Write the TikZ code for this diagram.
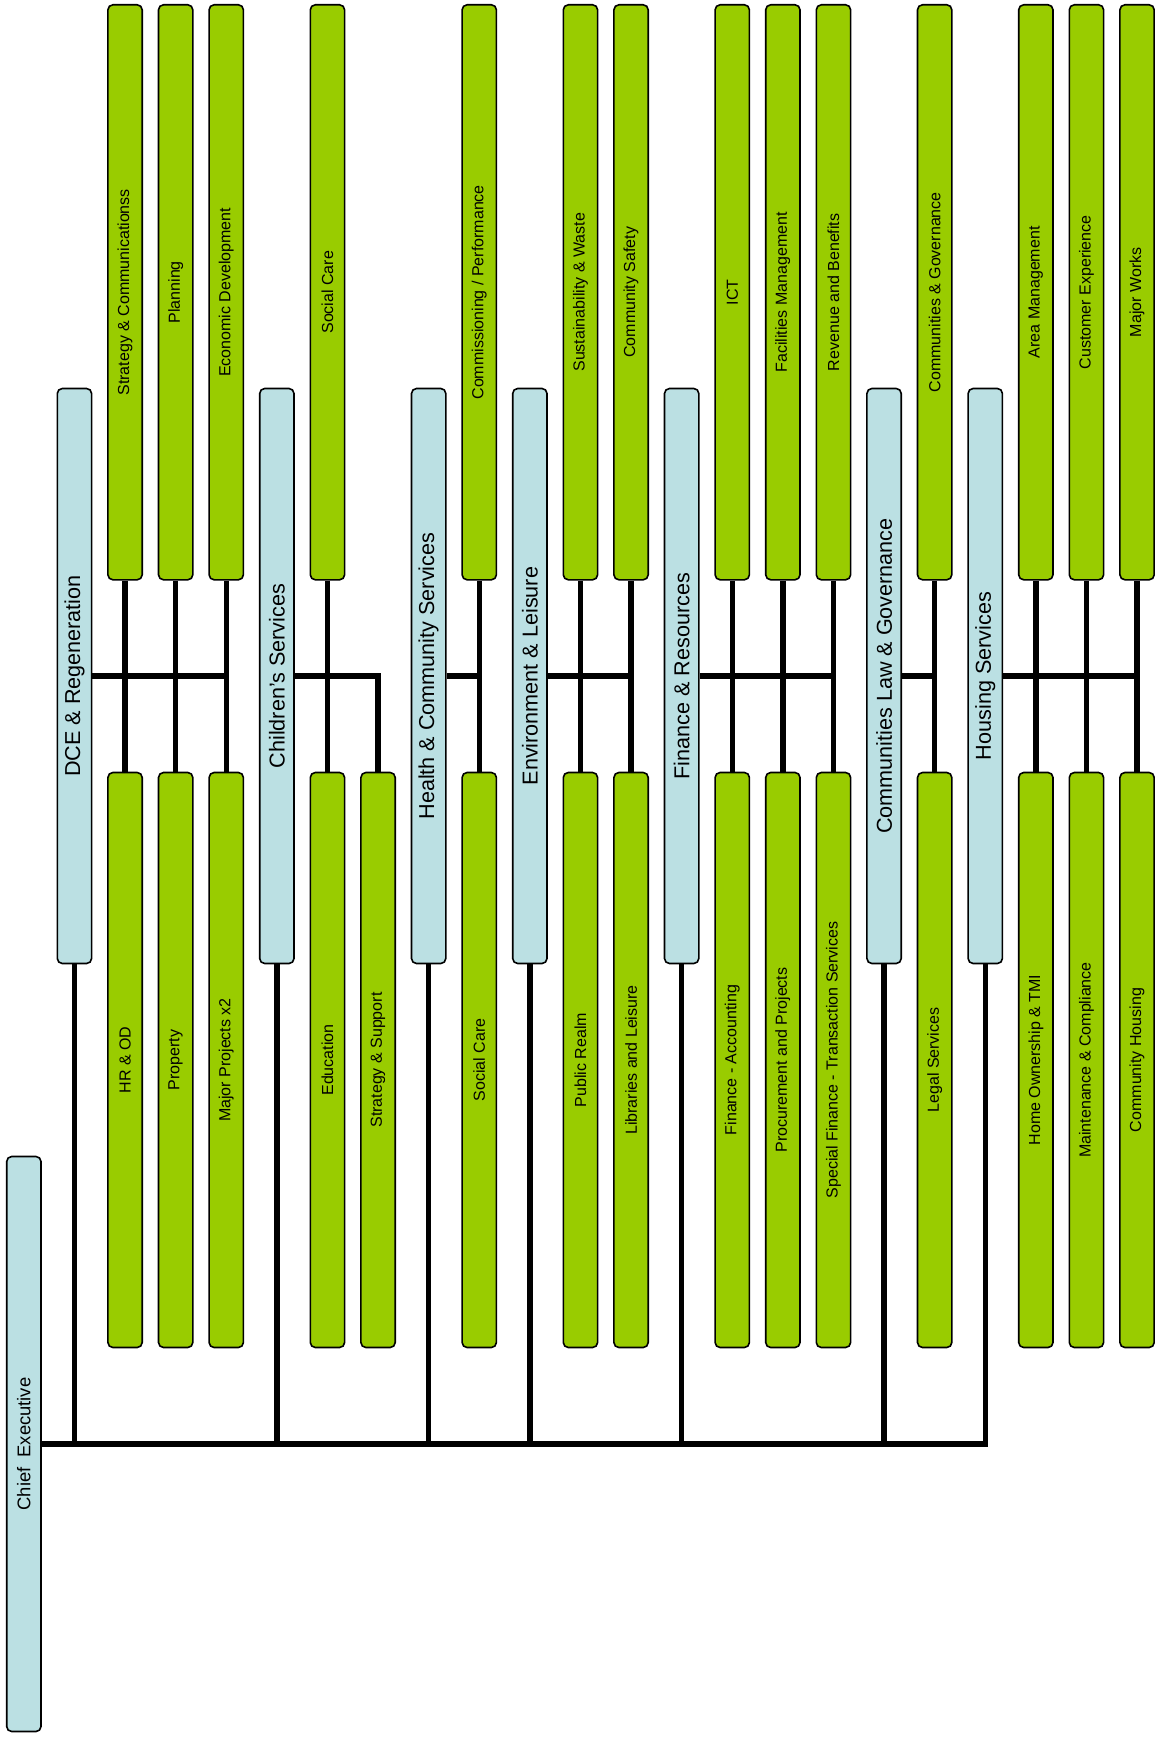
\documentclass[tikz,border=0pt]{standalone}
\usepackage{fontspec}
\setmainfont{Liberation Sans}
\definecolor{lgreen}{HTML}{99CC00}
\definecolor{lblue}{RGB}{187,224,227}
\tikzset{
  box/.style={draw=black, line width=0.8pt, rounded corners=2.5pt,
    minimum width=17.15pt, minimum height=287.5pt, inner sep=0pt, anchor=center},
  subbox/.style={box, fill=lgreen, font=\fontsize{8}{9.6}\selectfont},
  deptbox/.style={box, fill=lblue, font=\fontsize{10.8}{13}\selectfont},
  ceobox/.style={box, fill=lblue, font=\fontsize{9.2}{11}\selectfont},
  link/.style={line width=2.7pt, draw=black},
}
\newcommand\topbox[3]{\node[subbox] (#1) at ({23.85+50.6*#2},292.3) {\rotatebox{90}{#3}};}
\newcommand\botbox[3]{\node[subbox] (#1) at ({23.85+50.6*#2},1060) {\rotatebox{90}{#3}};}
\newcommand\deptbox[3]{\node[deptbox] (#1) at ({23.85+50.6*#2},676) {\rotatebox{90}{#3}};}
\begin{document}
\begin{tikzpicture}[x=0.5pt,y=-0.5pt]
\useasboundingbox (0,0) rectangle (1155,1738);
% chief executive
\node[ceobox] (ce) at (23.85,1444) {\rotatebox{90}{Chief\ \ Executive}};
% departments
\deptbox{dce}{1}{DCE \& Regeneration}
\deptbox{cs}{5}{Children’s Services}
\deptbox{hc}{8}{Health \& Community Services}
\deptbox{el}{10}{Environment \& Leisure}
\deptbox{fr}{13}{Finance \& Resources}
\deptbox{cl}{17}{Communities Law \& Governance}
\deptbox{hs}{19}{Housing Services}
% top sub-units
\topbox{t2}{2}{Strategy \& Communicationss}
\topbox{t3}{3}{Planning}
\topbox{t4}{4}{Economic Development}
\topbox{t6}{6}{Social Care}
\topbox{t9}{9}{Commissioning / Performance}
\topbox{t11}{11}{Sustainability \& Waste}
\topbox{t12}{12}{Community Safety}
\topbox{t14}{14}{ICT}
\topbox{t15}{15}{Facilities Management}
\topbox{t16}{16}{Revenue and Benefits}
\topbox{t18}{18}{Communities \& Governance}
\topbox{t20}{20}{Area Management}
\topbox{t21}{21}{Customer Experience}
\topbox{t22}{22}{Major Works}
% bottom sub-units
\botbox{b2}{2}{HR \& OD}
\botbox{b3}{3}{Property}
\botbox{b4}{4}{Major Projects x2}
\botbox{b6}{6}{Education}
\botbox{b7}{7}{Strategy \& Support}
\botbox{b9}{9}{Social Care}
\botbox{b11}{11}{Public Realm}
\botbox{b12}{12}{Libraries and Leisure}
\botbox{b14}{14}{Finance - Accounting}
\botbox{b15}{15}{Procurement and Projects}
\botbox{b16}{16}{Special Finance - Transaction Services}
\botbox{b18}{18}{Legal Services}
\botbox{b20}{20}{Home Ownership \& TMI}
\botbox{b21}{21}{Maintenance \& Compliance}
\botbox{b22}{22}{Community Housing}
% trunk
\draw[link] (ce.east) -| (hs.south);
\foreach \d in {dce,cs,hc,el,fr,cl}{\draw[link] (\d.south) -- (\d.south |- ce.east);}
% sub-unit verticals
\foreach \k in {2,3,4,6,9,11,12,14,15,16,18,20,21,22}{\draw[link] (t\k.south) -- (b\k.north);}
% branches
\draw[link] (dce.east) -- (dce.east -| t4.south);
\draw[link] (cs.east) -| (b7.north);
\draw[link] (hc.east) -- (hc.east -| t9.south);
\draw[link] (el.east) -- (el.east -| t12.south);
\draw[link] (fr.east) -- (fr.east -| t16.south);
\draw[link] (cl.east) -- (cl.east -| t18.south);
\draw[link] (hs.east) -- (hs.east -| t22.south);
\end{tikzpicture}
\end{document}
